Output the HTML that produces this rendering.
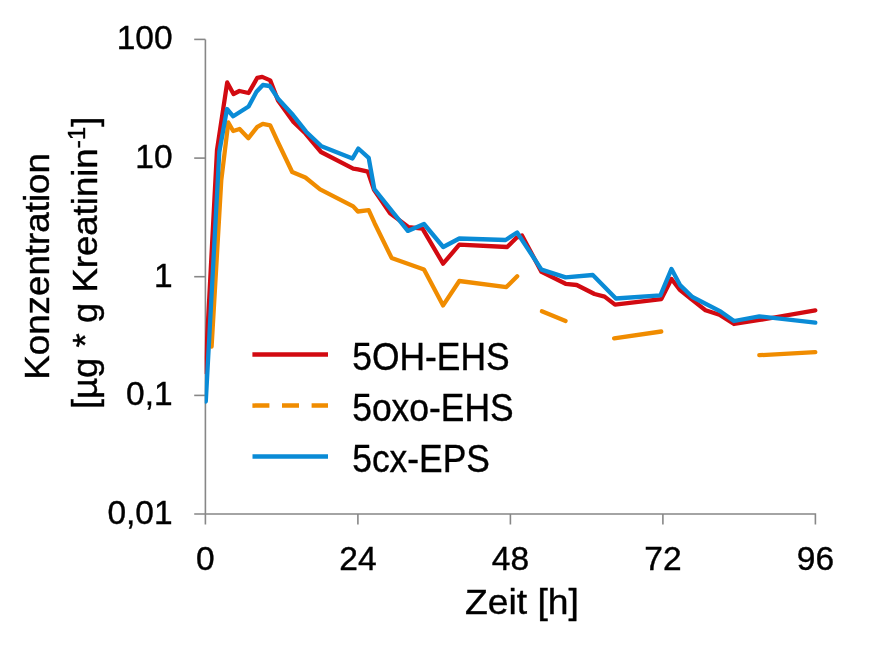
<!DOCTYPE html>
<html><head><meta charset="utf-8"><style>
html,body{margin:0;padding:0;background:#fff;width:872px;height:648px;overflow:hidden}
svg{display:block;will-change:transform}
text{font-family:"Liberation Sans",sans-serif;fill:#000;stroke:#000;stroke-width:0.4px}
.ax{font-size:33.5px}
.tt{font-size:35.5px}
.sup{font-size:23.5px}
.lg{font-size:38.5px}
</style></head><body>
<svg width="872" height="648" viewBox="0 0 872 648">
<g fill="none" stroke="#878787" stroke-width="1.6"><path d="M205.4,39.4 V524.5 M194.20000000000002,514.0 H815.4 V524.5" /><path d="M194.20000000000002,39.4 H205.4" /><path d="M194.20000000000002,158.1 H205.4" /><path d="M194.20000000000002,276.7 H205.4" /><path d="M194.20000000000002,395.4 H205.4" /><path d="M357.9,514.0 V524.5" /><path d="M510.4,514.0 V524.5" /><path d="M662.9,514.0 V524.5" /></g>
<defs><clipPath id="pc"><rect x="204.7" y="0" width="700" height="648"/></clipPath></defs><g clip-path="url(#pc)" fill="none" stroke-width="4.3" stroke-linejoin="round" stroke-linecap="round"><polyline points="205.4,372.0 217.0,150.0 227.2,82.5 233.5,94.0 239.4,91.0 248.6,93.0 257.3,77.8 262.2,76.9 270.2,80.4 278.0,100.5 293.5,122.0 305.5,133.5 321.0,152.0 353.2,168.6 357.9,169.4 367.9,171.7 374.0,189.7 390.1,213.2 408.6,227.1 422.5,228.6 443.1,263.7 459.3,244.7 507.2,247.0 516.5,237.7 522.0,235.5 541.5,271.9 565.6,283.8 576.7,285.0 594.5,294.0 604.6,296.6 615.0,304.6 661.3,299.1 671.5,279.0 679.5,289.5 691.6,299.4 705.5,310.2 719.4,314.8 734.0,324.0 759.5,320.0 815.3,310.4" stroke="#D20A11"/><polyline points="211.6,346.7 221.3,180.0 228.3,122.5 233.2,131.0 239.6,129.0 248.4,138.2 257.3,126.9 262.8,123.8 270.2,125.3 278.3,143.0 292.2,172.0 305.4,177.5 320.1,189.4 353.2,206.4 357.9,211.5 368.7,210.2 374.6,223.2 391.6,257.9 424.0,269.5 443.1,305.4 459.3,281.0 506.4,287.1 517.2,276.3" stroke="#F08C00"/><polyline points="541.9,311.3 565.6,320.9" stroke="#F08C00"/><polyline points="614.1,338.3 661.3,331.5" stroke="#F08C00"/><polyline points="759.3,355.2 815.3,352.1" stroke="#F08C00"/><polyline points="205.8,401.5 219.3,152.0 227.0,109.0 233.2,116.3 248.6,106.5 256.5,91.8 262.9,85.0 269.7,86.0 278.3,99.0 293.0,115.0 306.1,131.7 321.5,146.2 352.5,158.5 358.3,148.5 368.7,157.8 374.3,189.0 407.8,230.9 424.0,224.0 443.2,247.0 459.3,238.5 505.6,240.0 517.1,232.5 541.5,269.6 565.6,277.4 592.8,275.0 615.9,298.5 660.4,295.4 671.5,268.9 680.3,285.4 692.4,297.0 720.9,311.7 734.0,321.0 759.3,316.4 815.3,322.7" stroke="#0A8BD6"/></g>
<g fill="none"><path d="M252.4,354.5 H328" stroke="#D20A11" stroke-width="4.5" stroke-linecap="butt"/><path d="M252.4,405.6 H328" stroke="#F08C00" stroke-width="4.5" stroke-linecap="butt" stroke-dasharray="17 12.6"/><path d="M252.5,456.5 H328" stroke="#0A8BD6" stroke-width="4.5" stroke-linecap="butt"/><text transform="translate(352.2,370) scale(0.92,1)" class="lg">5OH-EHS</text><text transform="translate(352.2,421) scale(0.92,1)" class="lg">5oxo-EHS</text><text transform="translate(352.2,471.8) scale(0.92,1)" class="lg">5cx-EPS</text></g>
<text x="172.6" y="49.4" text-anchor="end" class="ax">100</text><text x="172.6" y="168.1" text-anchor="end" class="ax">10</text><text x="172.6" y="286.7" text-anchor="end" class="ax">1</text><text x="172.6" y="405.4" text-anchor="end" class="ax">0,1</text><text x="172.6" y="524.0" text-anchor="end" class="ax">0,01</text><text x="205.4" y="570" text-anchor="middle" class="ax">0</text><text x="357.9" y="570" text-anchor="middle" class="ax">24</text><text x="510.4" y="570" text-anchor="middle" class="ax">48</text><text x="662.9" y="570" text-anchor="middle" class="ax">72</text><text x="815.4" y="570" text-anchor="middle" class="ax">96</text><text transform="translate(521.9,614) scale(1.05,1)" text-anchor="middle" class="tt">Zeit [h]</text><text transform="translate(49.2,266.4) rotate(-90) scale(1.036,1)" text-anchor="middle" class="tt">Konzentration</text><text transform="translate(96.6,262.9) rotate(-90) scale(1.03,1)" text-anchor="middle" class="tt">[µg * g Kreatinin<tspan class="sup" dy="-11.6">-1</tspan><tspan dy="11.6">]</tspan></text>
</svg></body></html>
